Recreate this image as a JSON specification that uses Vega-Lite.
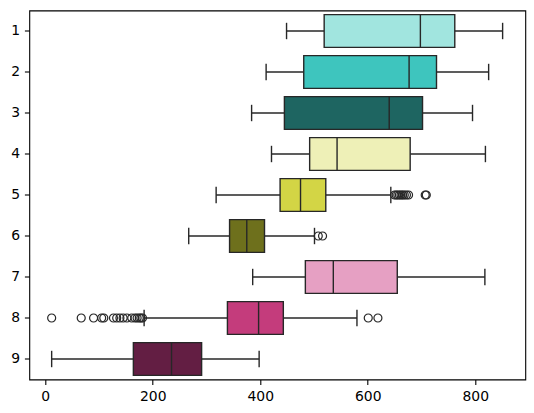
{
  "$schema": "https://vega.github.io/schema/vega-lite/v6.json",
  "description": "Horizontal box plots for nine groups, with outliers drawn as open circles.",
  "width": 496,
  "height": 369,
  "autosize": "none",
  "padding": {"left": 29.3, "top": 10.5, "right": 8.7, "bottom": 33.5},
  "background": "white",
  "config": {
    "view": {"stroke": "#000", "strokeWidth": 1.1},
    "axis": {
      "grid": false,
      "domain": false,
      "title": null,
      "labelFont": "DejaVu Sans",
      "labelFontSize": 13.9,
      "labelColor": "#000",
      "tickColor": "#000",
      "tickSize": 4.9,
      "tickWidth": 1.1,
      "labelPadding": 4.9
    }
  },
  "datasets": {
    "boxes": [
      {"cat": "1", "lower": 449, "q1": 519, "median": 698, "q3": 762, "upper": 851},
      {"cat": "2", "lower": 411, "q1": 481, "median": 677, "q3": 728, "upper": 825},
      {"cat": "3", "lower": 384, "q1": 445, "median": 640, "q3": 702, "upper": 795},
      {"cat": "4", "lower": 421, "q1": 492, "median": 543, "q3": 679, "upper": 819},
      {"cat": "5", "lower": 318, "q1": 437, "median": 475, "q3": 522, "upper": 643},
      {"cat": "6", "lower": 267, "q1": 343, "median": 375, "q3": 408, "upper": 501},
      {"cat": "7", "lower": 386, "q1": 484, "median": 536, "q3": 655, "upper": 818},
      {"cat": "8", "lower": 184, "q1": 339, "median": 397, "q3": 443, "upper": 580},
      {"cat": "9", "lower": 12, "q1": 164, "median": 235, "q3": 291, "upper": 398}
    ],
    "fliers": [
      {"cat": "5", "value": 650}, {"cat": "5", "value": 653}, {"cat": "5", "value": 656},
      {"cat": "5", "value": 659}, {"cat": "5", "value": 662}, {"cat": "5", "value": 665},
      {"cat": "5", "value": 668}, {"cat": "5", "value": 672}, {"cat": "5", "value": 676},
      {"cat": "5", "value": 707}, {"cat": "5", "value": 709},
      {"cat": "6", "value": 508}, {"cat": "6", "value": 516},
      {"cat": "8", "value": 12}, {"cat": "8", "value": 67}, {"cat": "8", "value": 90},
      {"cat": "8", "value": 105}, {"cat": "8", "value": 109}, {"cat": "8", "value": 127},
      {"cat": "8", "value": 133}, {"cat": "8", "value": 139}, {"cat": "8", "value": 145},
      {"cat": "8", "value": 152}, {"cat": "8", "value": 161}, {"cat": "8", "value": 167},
      {"cat": "8", "value": 171}, {"cat": "8", "value": 175}, {"cat": "8", "value": 178},
      {"cat": "8", "value": 181},
      {"cat": "8", "value": 601}, {"cat": "8", "value": 619}
    ]
  },
  "encoding": {
    "y": {
      "field": "cat",
      "type": "nominal",
      "sort": ["1", "2", "3", "4", "5", "6", "7", "8", "9"],
      "scale": {"type": "band", "paddingInner": 0.2, "paddingOuter": 0.1},
      "axis": {"labelAngle": 0}
    }
  },
  "layer": [
    {
      "data": {"name": "boxes"},
      "mark": {"type": "rule", "color": "#272727", "strokeWidth": 1.4},
      "encoding": {
        "x": {
          "field": "lower",
          "type": "quantitative",
          "scale": {"domain": [-29.6, 893.2], "nice": false, "zero": false},
          "axis": {"values": [0, 200, 400, 600, 800], "format": "d"}
        },
        "x2": {"field": "q1"}
      }
    },
    {
      "data": {"name": "boxes"},
      "mark": {"type": "rule", "color": "#272727", "strokeWidth": 1.4},
      "encoding": {
        "x": {"field": "q3", "type": "quantitative"},
        "x2": {"field": "upper"}
      }
    },
    {
      "data": {"name": "boxes"},
      "mark": {"type": "tick", "color": "#272727", "size": 16.4, "thickness": 1.4, "opacity": 1},
      "encoding": {"x": {"field": "lower", "type": "quantitative"}}
    },
    {
      "data": {"name": "boxes"},
      "mark": {"type": "tick", "color": "#272727", "size": 16.4, "thickness": 1.4, "opacity": 1},
      "encoding": {"x": {"field": "upper", "type": "quantitative"}}
    },
    {
      "data": {"name": "boxes"},
      "mark": {"type": "bar", "stroke": "#272727", "strokeWidth": 1.4, "opacity": 1},
      "encoding": {
        "x": {"field": "q1", "type": "quantitative"},
        "x2": {"field": "q3"},
        "color": {
          "field": "cat",
          "type": "nominal",
          "scale": {
            "domain": ["1", "2", "3", "4", "5", "6", "7", "8", "9"],
            "range": ["#a1e5df", "#3ec5be", "#1e6561", "#eef0b7", "#d3d545", "#6e701c", "#e6a0c3", "#c43c7c", "#631e43"]
          },
          "legend": null
        }
      }
    },
    {
      "data": {"name": "boxes"},
      "mark": {"type": "tick", "color": "#272727", "size": 32.8, "thickness": 1.4, "opacity": 1},
      "encoding": {"x": {"field": "median", "type": "quantitative"}}
    },
    {
      "data": {"name": "fliers"},
      "mark": {"type": "point", "shape": "circle", "filled": false, "size": 64, "color": "#272727", "strokeWidth": 1.2, "opacity": 1},
      "encoding": {"x": {"field": "value", "type": "quantitative"}}
    }
  ]
}
